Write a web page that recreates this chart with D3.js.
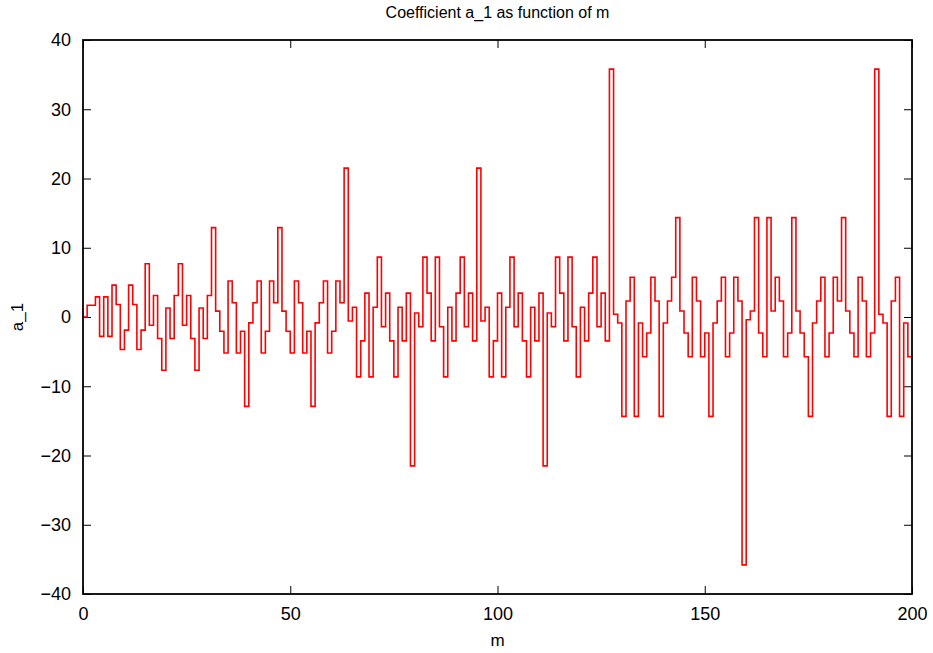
<!DOCTYPE html>
<html>
<head>
<meta charset="utf-8">
<script src="https://cdn.jsdelivr.net/npm/d3@7"></script>
<style>
  body { margin: 0; background: #fff; }
  svg text { font-family: "Liberation Sans", Arial, sans-serif; fill: #000; }
</style>
</head>
<body>
<svg id="chart"></svg>
<script>
// a_1 for m = 0 .. 199
const aValues = [
  0, 1.7, 1.7, 2.9, -2.8, 2.9, -2.8, 4.6,
  1.8, -4.7, -1.9, 4.6, 1.8, -4.7, -1.9, 7.7,
  -1.2, 3.1, -3.1, -7.7, 1.3, -3.1, 3.1, 7.7,
  -1.2, 3.1, -3.1, -7.7, 1.3, -3.1, 3.1, 12.9,
  0.85, -2.05, -5.2, 5.2, 2.05, -5.2, -2.05, -12.9,
  -0.85, 2.05, 5.2, -5.2, -2.05, 5.2, 2.05, 12.9,
  0.85, -2.05, -5.2, 5.2, 2.05, -5.2, -2.05, -12.9,
  -0.85, 2.05, 5.2, -5.2, -2.05, 5.2, 2.05, 21.5,
  -0.58, 1.4, -8.65, -3.45, 3.45, -8.65, 1.4, 8.65,
  -1.4, 3.45, -3.45, -8.65, 1.4, -3.45, 3.45, -21.5,
  0.58, -1.4, 8.65, 3.45, -3.45, 8.65, -1.4, -8.65,
  1.4, -3.45, 3.45, 8.65, -1.4, 3.45, -3.45, 21.5,
  -0.58, 1.4, -8.65, -3.45, 3.45, -8.65, 1.4, 8.65,
  -1.4, 3.45, -3.45, -8.65, 1.4, -3.45, 3.45, -21.5,
  0.58, -1.4, 8.65, 3.45, -3.45, 8.65, -1.4, -8.65,
  1.4, -3.45, 3.45, 8.65, -1.4, 3.45, -3.45, 35.8,
  0.39, -0.87, -14.35, 2.3, 5.75, -14.35, -0.87, -5.75,
  -2.3, 5.75, 2.3, -14.35, -0.87, 2.3, 5.75, 14.35,
  0.87, -2.3, -5.75, 5.75, 2.3, -5.75, -2.3, -14.35,
  -0.87, 2.3, 5.75, -5.75, -2.3, 5.75, 2.3, -35.8,
  -0.39, 0.87, 14.35, -2.3, -5.75, 14.35, 0.87, 5.75,
  2.3, -5.75, -2.3, 14.35, 0.87, -2.3, -5.75, -14.35,
  -0.87, 2.3, 5.75, -5.75, -2.3, 5.75, 2.3, 14.35,
  0.87, -2.3, -5.75, 5.75, 2.3, -5.75, -2.3, 35.8,
  0.39, -0.87, -14.35, 2.3, 5.75, -14.35, -0.87, -5.75
]
const xTicks = [0, 50, 100, 150, 200]
const yTicks = [-40, -30, -20, -10, 0, 10, 20, 30, 40]
const titleText = 'Coefficient a_1 as function of m'
const xLabel = 'm'
const yLabel = 'a_1'

const width = 933
const height = 653
const margin = { top: 40, right: 21, bottom: 59, left: 83 }
const plotW = width - margin.left - margin.right
const plotH = height - margin.top - margin.bottom
const TICK = 8

const points = aValues.map((v, m) => ({ m, v }))
// the last step runs out to the edge of the x range
points.push({ m: xTicks[xTicks.length - 1], v: aValues[aValues.length - 1] })

const svg = d3.select('#chart')
  .attr('width', width)
  .attr('height', height)

const x = d3.scaleLinear().domain([0, 200]).range([0, plotW])
const y = d3.scaleLinear().domain([-40, 40]).range([plotH, 0])

const group = svg.append('g')
  .attr('transform', `translate(${margin.left},${margin.top})`)

// 坐标轴，刻度朝里
const axisStyle = g => {
  g.select('.domain').remove()
  g.selectAll('.tick line').attr('stroke', '#000').attr('stroke-width', 1)
  g.selectAll('.tick text').style('font-size', '18px')
}

group.append('g')
  .attr('transform', `translate(0,${plotH})`)
  .call(d3.axisBottom(x).tickValues(xTicks).tickSize(-TICK).tickPadding(13))
  .call(axisStyle)

group.append('g')
  .call(d3.axisTop(x).tickValues(xTicks).tickSize(-TICK).tickFormat(''))
  .call(axisStyle)

group.append('g')
  .call(d3.axisLeft(y).tickValues(yTicks).tickSize(-TICK).tickPadding(12))
  .call(axisStyle)

group.append('g')
  .attr('transform', `translate(${plotW},0)`)
  .call(d3.axisRight(y).tickValues(yTicks).tickSize(-TICK).tickFormat(''))
  .call(axisStyle)

const line = d3.line()
  .x(d => x(d.m))
  .y(d => y(d.v))
  .curve(d3.curveStepAfter)

group.append('path')
  .datum(points)
  .attr('fill', 'none')
  .attr('stroke', '#ff0000')
  .attr('stroke-width', 1.6)
  .attr('d', line)

// 边框
group.append('rect')
  .attr('width', plotW)
  .attr('height', plotH)
  .attr('fill', 'none')
  .attr('stroke', '#000')
  .attr('stroke-width', 1.8)

svg.append('text')
  .attr('x', margin.left + plotW / 2)
  .attr('y', 18)
  .attr('text-anchor', 'middle')
  .style('font-size', '16px')
  .text(titleText)

svg.append('text')
  .attr('x', margin.left + plotW / 2)
  .attr('y', 646)
  .attr('text-anchor', 'middle')
  .style('font-size', '17px')
  .text(xLabel)

svg.append('text')
  .attr('transform', `translate(23,${margin.top + plotH / 2}) rotate(-90)`)
  .attr('text-anchor', 'middle')
  .style('font-size', '17px')
  .text(yLabel)
</script>
</body>
</html>
